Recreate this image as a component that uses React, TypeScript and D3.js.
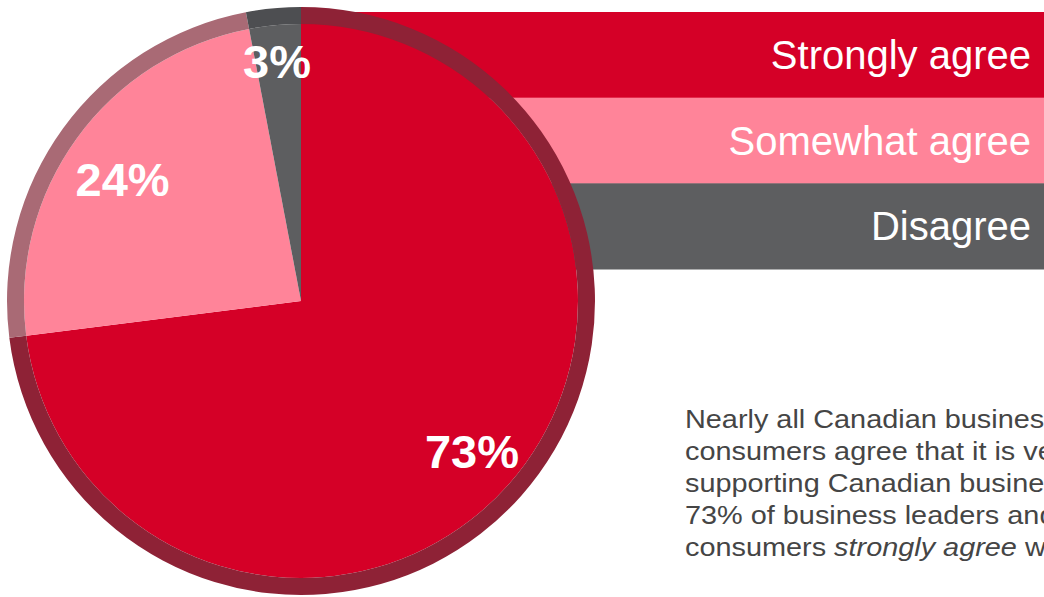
import React from "react";
import * as d3 from "d3";

const categories = ["Strongly agree", "Somewhat agree", "Disagree"];
const values = [73, 24, 3];
const sliceColors = ["#d50027", "#ff8499", "#5d5e60"];
const ringColors = ["#8e2236", "#a96a75", "#4d4e51"];
const paragraph = [
  "Nearly all Canadian business leaders and",
  "consumers agree that it is very important to be",
  "supporting Canadian businesses. Moreover,",
  "73% of business leaders and 68% of",
];

const W = 1044;
const H = 597;
const FONT = "'Liberation Sans', Arial, Helvetica, sans-serif";
// small label nudges (dx, dy) relative to the arc centroid
const labelNudge: [number, number][] = [
  [0, 16],
  [6, 29],
  [-2.5, 4],
];

export default function App() {
  const cx = 301;
  const cy = 301;
  const rInner = 277;
  const rOuter = 294;

  const pie = d3
    .pie<number>()
    .sort(null)
    .startAngle(0)
    .endAngle(2 * Math.PI)
    .value((d) => d);
  const arcs = pie(values);
  const fillArc = d3.arc<d3.PieArcDatum<number>>().innerRadius(0).outerRadius(rInner);
  const ringArc = d3.arc<d3.PieArcDatum<number>>().innerRadius(rInner).outerRadius(rOuter);
  const labelArc = d3.arc<d3.PieArcDatum<number>>().innerRadius(228).outerRadius(228);

  const band = d3.scaleBand<string>().domain(categories).range([12, 269]).padding(0);
  const barX = d3.scaleLinear().domain([0, 1]).range([cx, W]);

  return (
    <svg
      width={W}
      height={H}
      style={{ position: "absolute", left: 0, top: 0, background: "#fff" }}
      fontFamily={FONT}
    >
      {categories.map((c, i) => (
        <g key={c}>
          <rect
            x={barX(0)}
            y={band(c)}
            width={barX(1) - barX(0)}
            height={band.bandwidth() + 0.5}
            fill={sliceColors[i]}
          />
          <text
            x={1031}
            y={(band(c) as number) + band.bandwidth() / 2 + 14}
            textAnchor="end"
            fill="#fff"
            fontSize={40}
          >
            {c}
          </text>
        </g>
      ))}
      <g transform={`translate(${cx},${cy})`}>
        {arcs.map((a, i) => (
          <path key={"f" + i} d={fillArc(a) as string} fill={sliceColors[i]} />
        ))}
        {arcs.map((a, i) => (
          <path key={"r" + i} d={ringArc(a) as string} fill={ringColors[i]} />
        ))}
        {arcs.map((a, i) => {
          const [lx, ly] = labelArc.centroid(a);
          return (
            <text
              key={"l" + i}
              x={lx + labelNudge[i][0]}
              y={ly + labelNudge[i][1]}
              textAnchor="middle"
              fill="#fff"
              fontWeight="bold"
              fontSize={47}
            >
              {values[i]}%
            </text>
          );
        })}
      </g>
      <text
        transform="translate(685,428) scale(1.11,1)"
        x={0}
        y={0}
        fill="#454545"
        fontSize={26}
      >
        {paragraph.map((line, i) => (
          <tspan key={i} x={0} dy={i === 0 ? 0 : 32}>
            {line}
          </tspan>
        ))}
        <tspan x={0} dy={32}>
          consumers <tspan fontStyle="italic">strongly agree</tspan> with this.
        </tspan>
      </text>
    </svg>
  );
}
